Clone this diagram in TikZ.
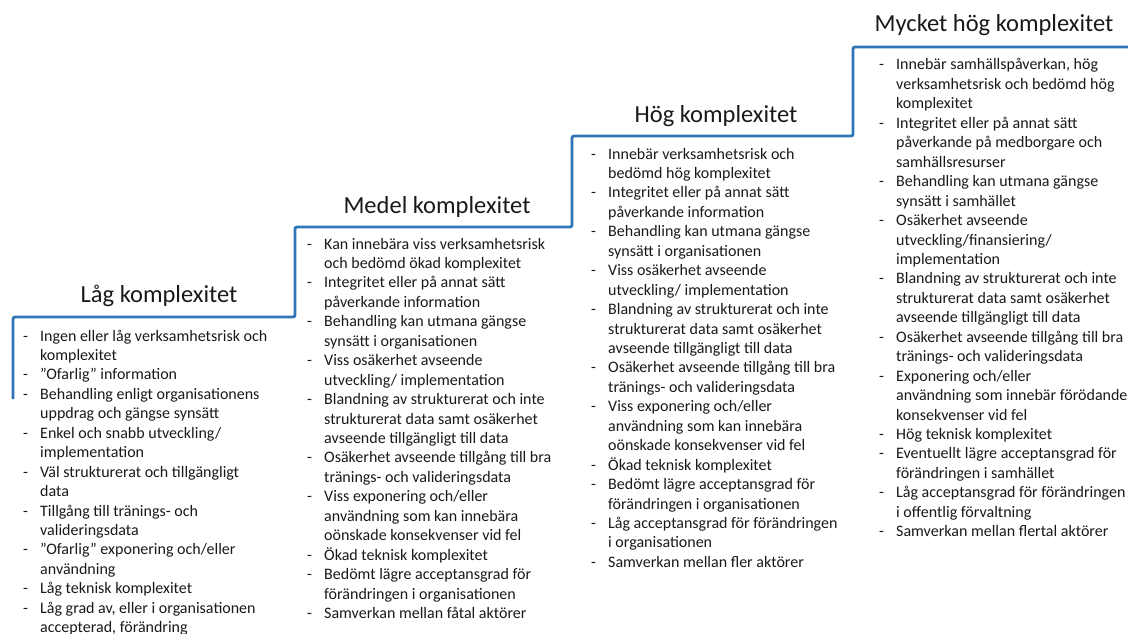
\documentclass[tikz,border=0pt]{standalone}
\usepackage{fontspec}
\setmainfont{Carlito}
\usepackage{array}
\definecolor{stairblue}{RGB}{46,117,182}
\definecolor{ink}{RGB}{25,25,25}
\tikzset{
  stair/.style={draw=stairblue, line width=2.8pt, rounded corners=2pt},
  levelhead/.style={anchor=base, inner sep=0pt, text=ink, font=\fontsize{24.5}{28}\selectfont},
  levellist/.style={anchor=base west, inner sep=0pt, text=ink, font=\fontsize{16}{19.45}\selectfont},
}
\newcommand{\listtab}[1]{\begin{tabular}[t]{@{}p{17pt}@{}l@{}}#1\end{tabular}}
\begin{document}
\begin{tikzpicture}[x=1pt, y=-1pt]
\useasboundingbox (0,0) rectangle (1128,634);

% staircase
\coordinate (s0) at (13,399);
\coordinate (s1) at (13,317);
\coordinate (s2) at (295,317);
\coordinate (s3) at (295,227);
\coordinate (s4) at (572,227);
\coordinate (s5) at (572,136);
\coordinate (s6) at (853,136);
\coordinate (s7) at (853,47);
\coordinate (s8) at (1130,47);
\draw[stair] (s0) -- (s1) -- (s2) -- (s3) -- (s4) -- (s5) -- (s6) -- (s7) -- (s8);

% headings
\node[levelhead] (h1) at (159,302) {Låg komplexitet};
\node[levelhead] (h2) at (437,213) {Medel komplexitet};
\node[levelhead] (h3) at (716,122) {Hög komplexitet};
\node[levelhead] (h4) at (994,32) {Mycket hög komplexitet};

% lists
\node[levellist] (l1) at (23,341) {\listtab{
- & Ingen eller låg verksamhetsrisk och\\
  & komplexitet\\
- & ”Ofarlig” information\\
- & Behandling enligt organisationens\\
  & uppdrag och gängse synsätt\\
- & Enkel och snabb utveckling/\\
  & implementation\\
- & Väl strukturerat och tillgängligt\\
  & data\\
- & Tillgång till tränings- och\\
  & valideringsdata\\
- & ”Ofarlig” exponering och/eller\\
  & användning\\
- & Låg teknisk komplexitet\\
- & Låg grad av, eller i organisationen\\
  & accepterad, förändring}};

\node[levellist] (l2) at (307,249) {\listtab{
- & Kan innebära viss verksamhetsrisk\\
  & och bedömd ökad komplexitet\\
- & Integritet eller på annat sätt\\
  & påverkande information\\
- & Behandling kan utmana gängse\\
  & synsätt i organisationen\\
- & Viss osäkerhet avseende\\
  & utveckling/ implementation\\
- & Blandning av strukturerat och inte\\
  & strukturerat data samt osäkerhet\\
  & avseende tillgängligt till data\\
- & Osäkerhet avseende tillgång till bra\\
  & tränings- och valideringsdata\\
- & Viss exponering och/eller\\
  & användning som kan innebära\\
  & oönskade konsekvenser vid fel\\
- & Ökad teknisk komplexitet\\
- & Bedömt lägre acceptansgrad för\\
  & förändringen i organisationen\\
- & Samverkan mellan fåtal aktörer}};

\node[levellist] (l3) at (591,159) {\listtab{
- & Innebär verksamhetsrisk och\\
  & bedömd hög komplexitet\\
- & Integritet eller på annat sätt\\
  & påverkande information\\
- & Behandling kan utmana gängse\\
  & synsätt i organisationen\\
- & Viss osäkerhet avseende\\
  & utveckling/ implementation\\
- & Blandning av strukturerat och inte\\
  & strukturerat data samt osäkerhet\\
  & avseende tillgängligt till data\\
- & Osäkerhet avseende tillgång till bra\\
  & tränings- och valideringsdata\\
- & Viss exponering och/eller\\
  & användning som kan innebära\\
  & oönskade konsekvenser vid fel\\
- & Ökad teknisk komplexitet\\
- & Bedömt lägre acceptansgrad för\\
  & förändringen i organisationen\\
- & Låg acceptansgrad för förändringen\\
  & i organisationen\\
- & Samverkan mellan fler aktörer}};

\node[levellist] (l4) at (879,70) {\listtab{
- & Innebär samhällspåverkan, hög\\
  & verksamhetsrisk och bedömd hög\\
  & komplexitet\\
- & Integritet eller på annat sätt\\
  & påverkande på medborgare och\\
  & samhällsresurser\\
- & Behandling kan utmana gängse\\
  & synsätt i samhället\\
- & Osäkerhet avseende\\
  & utveckling/finansiering/\\
  & implementation\\
- & Blandning av strukturerat och inte\\
  & strukturerat data samt osäkerhet\\
  & avseende tillgängligt till data\\
- & Osäkerhet avseende tillgång till bra\\
  & tränings- och valideringsdata\\
- & Exponering och/eller\\
  & användning som innebär förödande\\
  & konsekvenser vid fel\\
- & Hög teknisk komplexitet\\
- & Eventuellt lägre acceptansgrad för\\
  & förändringen i samhället\\
- & Låg acceptansgrad för förändringen\\
  & i offentlig förvaltning\\
- & Samverkan mellan flertal aktörer}};
\end{tikzpicture}
\end{document}
